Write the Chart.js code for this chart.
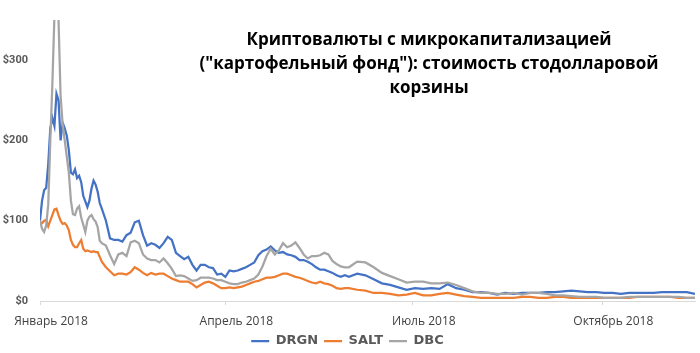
<!DOCTYPE html>
<html>
<head>
<meta charset="utf-8">
<script src="https://cdn.jsdelivr.net/npm/chart.js@4/dist/chart.umd.min.js"></script>
<style>
  html, body { margin: 0; padding: 0; background: #fff; }
  #wrap { width: 700px; height: 353px; position: relative; }
</style>
</head>
<body>
<div id="wrap"><canvas id="chart"></canvas></div>
<script>
// days since 1 Jan 2018
const days = [
  0, 1, 2, 3, 4, 5, 6, 7, 8, 9, 10, 11, 12, 13, 14, 15, 16, 17, 18, 19, 20,
  21, 22, 23, 24, 25, 26, 27, 28, 29, 30,
  32, 34, 36, 38, 40, 42, 44, 46, 48, 50, 52, 54, 56, 58, 60, 62, 64, 66, 68, 70,
  72, 74, 76, 78, 80, 82, 84, 86, 88, 90, 92, 94, 96, 98, 100, 102, 104, 106, 108, 110,
  112, 114, 116, 118, 120, 122, 124, 126, 128, 130, 132, 134, 136, 138, 140, 142, 144, 146, 148, 150,
  154, 158, 162, 166, 170, 174, 178, 182, 186, 190, 194, 198, 202, 206, 210, 214, 218, 222, 226, 230,
  234, 238, 242, 246, 250, 254, 258, 262, 266, 270, 274, 278, 282, 286, 290, 294, 298, 302, 306, 310,
  314, 318
];

const drgn = [
  100, 125, 138, 141, 170, 215, 228, 218, 258, 250, 200, 222, 215, 206, 188, 160, 158, 164, 153, 156,
  148, 131, 124, 117, 125, 140, 150, 145, 136, 122, 115,
  100, 78, 76, 76, 74, 82, 85, 98, 100, 82, 69, 72, 70, 66, 72, 80, 76, 60, 56, 52,
  55, 45, 38, 45, 45, 42, 41, 33, 34, 30, 38, 37, 38, 40, 42, 45, 48, 57, 62, 64,
  68, 63, 60, 61, 58, 57, 55, 51, 51, 49, 46, 42, 39, 39, 37, 35, 32, 30, 32, 30,
  34, 32, 27, 22, 20, 17, 14, 16, 15, 16, 15, 21, 16, 14, 11, 11, 10, 8, 10, 9,
  10, 10, 10, 11, 11, 12, 13, 12, 11, 11, 10, 10, 9, 10, 10, 10, 10, 11, 11, 11,
  11, 9
];

const salt = [
  98, 97, 100, 101, 93, 100, 107, 114, 115, 107, 100, 96, 97, 94, 88, 76, 70, 67, 67, 72,
  76, 65, 62, 63, 62, 61, 62, 61, 61, 55, 49,
  42, 37, 32, 34, 34, 33, 36, 42, 39, 35, 32, 35, 33, 34, 34, 31, 28, 26, 24, 24,
  24, 21, 17, 20, 23, 24, 22, 19, 16, 16, 17, 16, 17, 18, 20, 22, 24, 25, 27, 29,
  29, 30, 32, 34, 34, 32, 30, 29, 27, 25, 23, 22, 24, 22, 21, 19, 16, 15, 16, 16,
  14, 13, 10, 10, 9, 7, 8, 10, 7, 7, 9, 10, 8, 6, 5, 4, 4, 4, 4, 4,
  5, 5, 4, 4, 5, 5, 4, 4, 4, 4, 4, 4, 4, 4, 5, 5, 5, 5, 5, 4,
  4, 4
];

const dbc = [
  100, 90, 86, 94, 120, 200, 270, 355, 355, 350, 255, 220, 200, 180, 160, 125, 108, 107, 115, 118,
  104, 95, 86, 100, 105, 107, 102, 99, 92, 75, 72,
  69, 57, 46, 58, 60, 56, 73, 75, 72, 58, 53, 51, 51, 48, 53, 47, 40, 31, 32, 31,
  28, 25, 26, 29, 29, 29, 28, 26, 26, 24, 22, 21, 21, 23, 24, 26, 28, 33, 43, 56,
  65, 58, 63, 72, 67, 69, 73, 66, 58, 53, 56, 56, 57, 60, 58, 50, 46, 43, 42, 42,
  49, 48, 42, 35, 31, 27, 23, 24, 24, 22, 22, 23, 20, 16, 12, 10, 10, 9, 9, 10,
  8, 10, 10, 9, 7, 7, 6, 5, 5, 5, 4, 4, 4, 5, 5, 5, 5, 5, 5, 5,
  4, 4
];

const tickDays = [0, 90, 181, 273];
const tickLabels = ['Январь 2018', 'Апрель 2018', 'Июль 2018', 'Октябрь 2018'];
const yTicks = [0, 100, 200, 300];
const titleLines = [
  'Криптовалюты с микрокапитализацией',
  '("картофельный фонд"): стоимость стодолларовой',
  'корзины'
];

function toPoints(values) {
  return values.map((v, i) => ({ x: days[i], y: v }));
}

// title sits inside the plot, top right
const cornerTitle = {
  id: 'cornerTitle',
  afterDraw(chart) {
    const ctx = chart.ctx;
    ctx.save();
    ctx.font = 'bold 17px "Open Sans"';
    ctx.fillStyle = '#000';
    ctx.textAlign = 'center';
    ctx.textBaseline = 'middle';
    titleLines.forEach((t, i) => ctx.fillText(t, 429, 40 + i * 24));
    ctx.restore();
  }
};

const lineSet = (label, values, color, order) => ({
  label: label,
  data: toPoints(values),
  borderColor: color,
  backgroundColor: color,
  borderWidth: 2.25,
  pointRadius: 0,
  tension: 0,
  order: order
});

new Chart(document.getElementById('chart'), {
  type: 'line',
  data: {
    datasets: [
      lineSet('DRGN', drgn, '#4472C4', 3),
      lineSet('SALT', salt, '#ED7D31', 2),
      lineSet('DBC', dbc, '#A5A5A5', 1)
    ]
  },
  options: {
    responsive: true,
    maintainAspectRatio: false,
    animation: false,
    layout: { padding: { top: 20, right: 5, left: 0, bottom: -4.5 } },
    plugins: {
      tooltip: { enabled: false },
      legend: {
        position: 'bottom',
        labels: {
          usePointStyle: true,
          pointStyle: 'line',
          pointStyleWidth: 18,
          color: '#595959',
          font: { family: '"DejaVu Sans"', size: 13, weight: 'bold' },
          padding: 6,
          sort: (a, b) => a.datasetIndex - b.datasetIndex
        }
      }
    },
    scales: {
      x: {
        type: 'linear',
        min: 0,
        max: 318,
        afterBuildTicks: scale => { scale.ticks = tickDays.map(v => ({ value: v })); },
        afterFit: scale => {
          scale.height = 27.5;
          scale.paddingLeft = 0;
          scale.paddingRight = 0;
        },
        ticks: {
          callback: (v, i) => tickLabels[i],
          color: '#404040',
          font: { family: '"Open Sans"', size: 12 },
          labelOffset: 11,
          padding: 9,
          maxRotation: 0,
          autoSkip: false
        },
        grid: { drawOnChartArea: false, color: '#d9d9d9', tickLength: 4 },
        border: { color: '#d9d9d9' }
      },
      y: {
        min: 0,
        max: 350,
        afterBuildTicks: scale => { scale.ticks = yTicks.map(v => ({ value: v })); },
        afterFit: scale => { scale.width = 40; },
        ticks: {
          callback: v => '$' + v,
          color: '#595959',
          font: { family: 'Roboto', size: 11, weight: 'bold' },
          padding: 4
        },
        grid: { display: false },
        border: { display: false }
      }
    }
  },
  plugins: [cornerTitle]
});
</script>
</body>
</html>
